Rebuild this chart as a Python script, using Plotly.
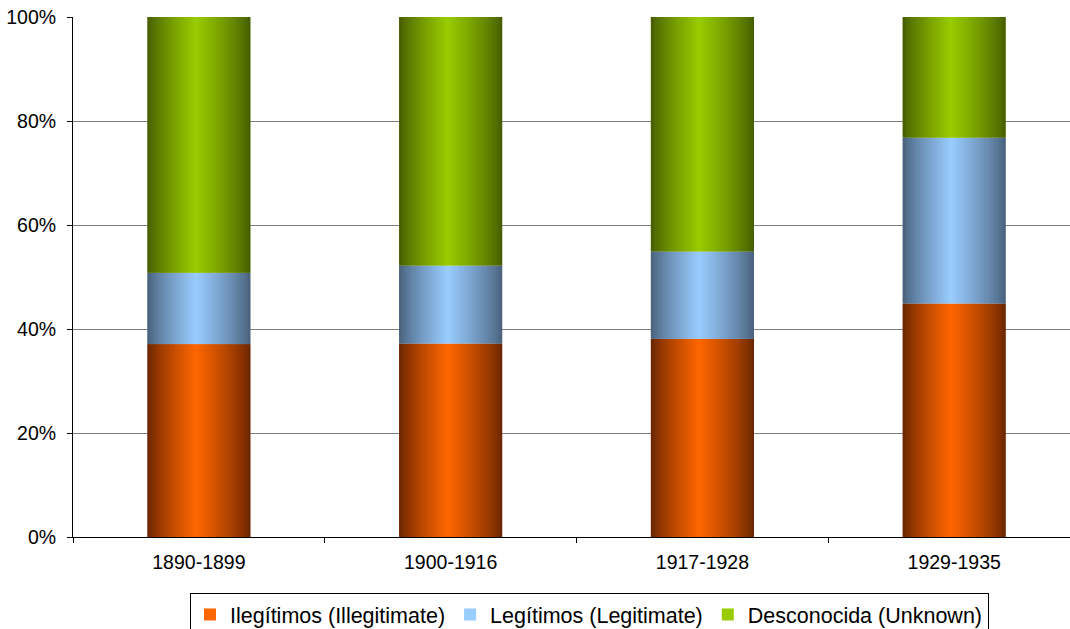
import plotly.graph_objects as go

categories = ["1890-1899", "1900-1916", "1917-1928", "1929-1935"]
ilegitimos = [37.1, 37.2, 38.1, 44.9]
legitimos = [13.7, 15.0, 16.8, 31.9]
desconocida = [49.2, 47.8, 45.1, 23.2]
y_ticks = [0, 20, 40, 60, 80, 100]
y_tick_labels = ["0%", "20%", "40%", "60%", "80%", "100%"]

series = [
    ("Ilegítimos (Illegitimate)", ilegitimos, (0xFF, 0x66, 0x00), (0x66, 0x24, 0x00)),
    ("Legítimos (Legitimate)", legitimos, (0x99, 0xCC, 0xFF), (0x46, 0x5E, 0x78)),
    ("Desconocida (Unknown)", desconocida, (0x99, 0xCC, 0x00), (0x44, 0x5A, 0x00)),
]

BAR_W = 0.41
N = 48
PEAK = 0.47

def mix(c1, c2, f):
    return "rgb(%d,%d,%d)" % tuple(round(a * f + b * (1 - f)) for a, b in zip(c1, c2))

fig = go.Figure()
base = [0.0] * len(categories)
for name, vals, bright, dark in series:
    for i in range(N):
        t = (i + 0.5) / N
        if t <= PEAK:
            f = t / PEAK
        else:
            f = 1 - (t - PEAK) / (1 - PEAK)
        f = max(0.0, min(1.0, f)) ** 0.8
        sw = BAR_W / N
        w = sw * 1.5 if i < N - 1 else sw
        fig.add_trace(go.Bar(
            x=categories, y=vals, base=base,
            width=[w] * len(categories),
            offset=[-BAR_W / 2 + i * sw] * len(categories),
            marker=dict(color=mix(bright, dark, f), line=dict(width=0)),
            name=name, legendgroup=name,
            showlegend=(i == int(N * PEAK)),
            hoverinfo="skip",
        ))
    base = [b + v for b, v in zip(base, vals)]

fig.update_layout(
    width=1070, height=629,
    barmode="overlay",
    paper_bgcolor="white", plot_bgcolor="white",
    margin=dict(l=73, r=0, t=17, b=92, autoexpand=False),
    font=dict(family="Liberation Sans, Arial, sans-serif", size=20, color="black"),
    showlegend=True,
    legend=dict(
        orientation="h",
        xref="container", x=190 / 1070, xanchor="left",
        yref="container", y=1 - 593 / 629, yanchor="top",
        bordercolor="black", borderwidth=1, bgcolor="white",
        font=dict(size=21.5), itemwidth=30, tracegroupgap=0,
    ),
    xaxis=dict(
        type="category", range=[-0.5, 3.46], automargin=False,
        showline=True, linecolor="black", linewidth=1,
        ticks="outside", tickson="boundaries", ticklen=5, tickcolor="black",
        showgrid=False, tickfont=dict(size=19.5), ticklabelstandoff=8,
    ),
    yaxis=dict(
        range=[0, 100], tickvals=y_ticks, ticktext=y_tick_labels, automargin=False,
        showline=True, linecolor="black", linewidth=1,
        ticks="outside", ticklen=5, tickcolor="black",
        showgrid=True, gridcolor="#808080", gridwidth=1,
        zeroline=False, tickfont=dict(size=19.5), ticklabelstandoff=7,
    ),
)

fig.write_html(
    "out.html",
    config={"displayModeBar": False},
    post_script="document.body.style.margin='0';document.body.style.padding='0';document.body.style.overflow='hidden';",
)
